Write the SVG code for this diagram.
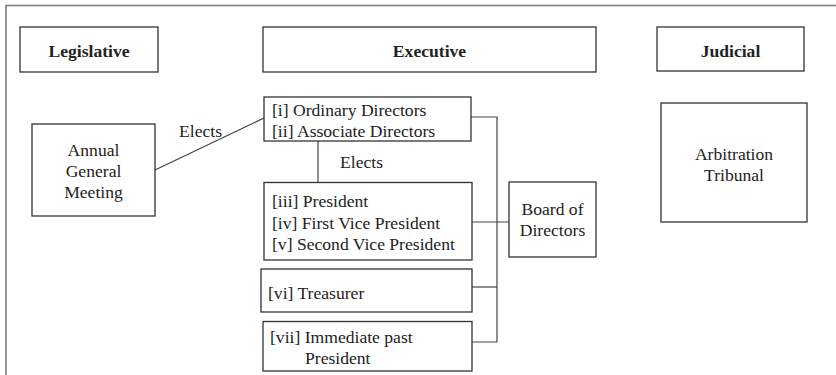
<svg xmlns="http://www.w3.org/2000/svg" width="836" height="375" viewBox="0 0 836 375" font-family="'Liberation Serif', 'Times New Roman', Tinos, serif">
<style>
.box{fill:#fff;stroke:#333;stroke-width:1.3}
.con{fill:none;stroke:#444;stroke-width:1.2}
.frame{fill:none;stroke:#777;stroke-width:1.5}
text{font-family:'Liberation Serif','Times New Roman',Tinos,serif;font-size:17.6px;fill:#222}
.h{font-weight:bold;text-anchor:middle}
.c{text-anchor:middle}
</style>
<rect width="836" height="375" fill="#fff"/>
<path class="frame" d="M6,375 V5.5 H836"/>
<g id="connectors">
<line class="con" x1="155" y1="170" x2="264" y2="118"/>
<line class="con" x1="318" y1="141" x2="318" y2="183"/>
<path class="con" d="M471,117 H497 V342 H472"/>
<line class="con" x1="472" y1="222" x2="509" y2="222"/>
<line class="con" x1="472" y1="287" x2="497" y2="287"/>
<text x="179" y="137">Elects</text>
<text x="340" y="168">Elects</text>
</g>
<g id="legislative"><rect class="box" x="20" y="27" width="138" height="45"/><text class="h" x="89" y="57">Legislative</text></g>
<g id="executive"><rect class="box" x="263" y="27" width="333" height="45"/><text class="h" x="429.5" y="57">Executive</text></g>
<g id="judicial"><rect class="box" x="657" y="27" width="147" height="44"/><text class="h" x="730.5" y="56.5">Judicial</text></g>
<g id="agm"><rect class="box" x="32" y="124" width="123" height="92"/>
<text class="c" x="93.5" y="156">Annual</text><text class="c" x="93.5" y="177">General</text><text class="c" x="93.5" y="198">Meeting</text></g>
<g id="directors"><rect class="box" x="264" y="97" width="207" height="44"/>
<text x="272" y="115.5">[i] Ordinary Directors</text><text x="272" y="137">[ii] Associate Directors</text></g>
<g id="officers"><rect class="box" x="264" y="182.5" width="208" height="77.5"/>
<text x="272" y="207">[iii] President</text><text x="272" y="228.5">[iv] First Vice President</text><text x="272" y="250">[v] Second Vice President</text></g>
<g id="treasurer"><rect class="box" x="261" y="269" width="211" height="43"/><text x="268" y="299">[vi] Treasurer</text></g>
<g id="past-president"><rect class="box" x="263" y="321.5" width="209" height="49.5"/>
<text x="270" y="343">[vii] Immediate past</text><text x="305" y="364">President</text></g>
<g id="board"><rect class="box" x="509" y="182" width="87" height="75"/>
<text class="c" x="552.5" y="215">Board of</text><text class="c" x="552.5" y="236">Directors</text></g>
<g id="arbitration"><rect class="box" x="661" y="103" width="146" height="119"/>
<text class="c" x="734" y="159.5">Arbitration</text><text class="c" x="734" y="180.5">Tribunal</text></g>
</svg>
